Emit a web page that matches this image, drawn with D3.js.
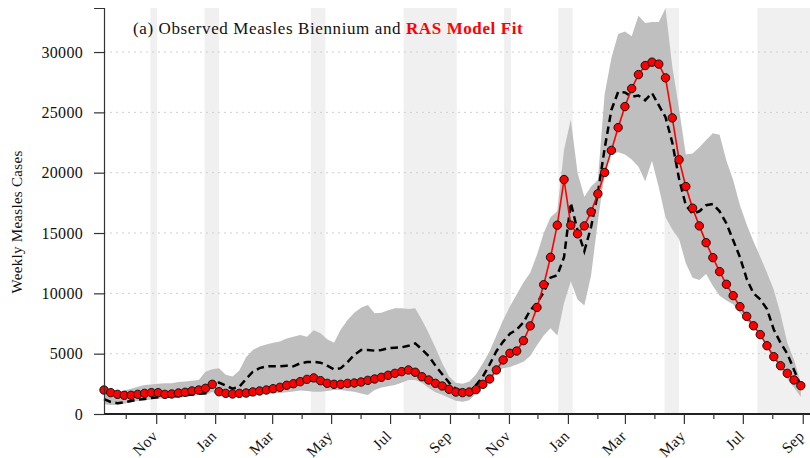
<!DOCTYPE html>
<html>
<head>
<meta charset="utf-8">
<style>
  html, body { margin: 0; padding: 0; background: #fff; }
  svg { display: block; }
</style>
<script src="https://cdn.jsdelivr.net/npm/d3@7"></script>
</head>
<body>
<main></main>
<script>
const WIDTH = 810;
const HEIGHT = 458;
const FONT = "'Liberation Serif', 'DejaVu Serif', serif";

// First week of the series, one value per week after that.
const START_DATE = "1961-09-08";

const observed = [
  1990, 1770, 1630, 1550, 1550, 1630, 1710, 1770, 1770, 1630,
  1660, 1740, 1800, 1910, 1990, 2130, 2460, 1850, 1710, 1660,
  1710, 1740, 1830, 1910, 1990, 2100, 2210, 2380, 2510, 2680,
  2870, 2990, 2760, 2540, 2460, 2460, 2540, 2570, 2650, 2790,
  2900, 3040, 3210, 3370, 3510, 3650, 3460, 3090, 2820, 2540,
  2320, 2050, 1820, 1770, 1820, 2020, 2460, 2900, 3650, 4480,
  5030, 5220, 6080, 7300, 8830, 10720, 12990, 15650, 19430, 15650,
  14930, 15590, 16750, 18250, 20010, 21850, 23740, 25480, 26970, 28130,
  28880, 29160, 29000, 27860, 24540, 21080, 18850, 17060, 15590, 14200,
  12960, 11800, 10750, 9810, 8900, 8090, 7310, 6580, 5660, 4750,
  4000, 3370, 2820, 2350
];

// RAS model: mean prediction and its interval
const modelMean = [
  1240, 1000, 900, 960, 1080, 1180, 1250, 1320, 1380, 1420,
  1450, 1500, 1560, 1620, 1680, 1720, 2500, 2600, 2350, 2100,
  2250, 2900, 3500, 3800, 3950, 3950, 3950, 4000, 3950, 4200,
  4300, 4330, 4250, 4000, 3700, 3800, 4300, 4900, 5300, 5300,
  5250, 5300, 5450, 5500, 5530, 5650, 5850, 5350, 4800, 4000,
  3300, 2600, 2100, 1900, 1950, 2400, 3100, 4100, 5200, 6000,
  6650, 7000, 7600, 8600, 9200, 10100, 11300, 11500, 13000, 17500,
  15200, 13500, 15500, 18300, 22000, 25200, 26700, 26650, 26300, 26400,
  26000, 26600, 25600, 24600, 22500, 19500, 17300, 16600, 16800, 17300,
  17400, 16800, 15800, 14400, 13000, 11200, 10000, 9500, 8700, 7000,
  5900, 5000, 3650, 2300
];

const modelLower = [
  800, 750, 760, 850, 1000, 1080, 1150, 1200, 1260, 1300,
  1320, 1350, 1400, 1500, 1580, 1580, 1850, 1580, 1520, 1490,
  1530, 1580, 1600, 1630, 1660, 1700, 1750, 1800, 1870, 1950,
  1900, 1850, 1850, 1900, 1990, 1990, 1900, 1850, 1700, 1580,
  1990, 2200, 2300, 2400, 2600, 2820, 2820, 2600, 2150, 1800,
  1600, 1350, 1100, 1020, 1150, 1700, 2300, 2700, 3500, 3800,
  3900, 4100, 4340, 4800, 5700, 6500, 7100, 6500, 9200, 11000,
  9500, 9000, 11500, 16000, 19900, 21600, 21700, 21500, 21100, 20500,
  19300, 21000, 18800, 16300, 15300, 14500, 12500, 11300, 11100, 11600,
  10600, 9800, 9400, 9100, 8400, 7700, 7200, 6500, 5600, 4750,
  3750, 2900, 2200, 1400
];

const modelUpper = [
  1600, 1700, 1800, 1950, 2100, 2250, 2400, 2450, 2500, 2540,
  2550, 2650, 2700, 2750, 2820, 3500, 3700, 3800, 3250, 3100,
  3600, 4700, 5300, 5600, 5750, 5900, 6000, 6250, 6400, 6550,
  6400, 6950, 6700, 6200, 5900, 7000, 7800, 8400, 8800, 9040,
  8350, 8400, 8600, 8760, 8760, 8700, 8760, 7800, 6700, 5500,
  4200, 3100, 2600, 2500, 2700, 3300, 4200, 5200, 6500, 7800,
  8900, 9900, 10900, 11700, 13200, 15000, 16300, 16800, 21900, 24400,
  20000, 18000, 18850, 19400, 26500, 29500, 31500, 31700, 31300, 33000,
  32400, 32500, 32500, 33600, 28800, 25300, 21500, 21600, 22100, 22700,
  23270, 23150, 21000, 19400, 17300, 15700, 14300, 13040, 11700, 10300,
  8300, 5900, 4480, 2600
];

// School holidays, drawn as light vertical bands
const holidays = [
  ["1961-10-26", "1961-11-02"],
  ["1961-12-21", "1962-01-05"],
  ["1962-04-10", "1962-04-25"],
  ["1962-07-15", "1962-09-08"],
  ["1962-10-27", "1962-11-03"],
  ["1962-12-22", "1963-01-06"],
  ["1963-04-11", "1963-04-26"],
  ["1963-07-16", "1963-09-30"]
];

const yTicks = [0, 5000, 10000, 15000, 20000, 25000, 30000];

const parse = d3.timeParse("%Y-%m-%d");
const start = parse(START_DATE);
const rows = observed.map((v, i) => ({
  date: d3.timeDay.offset(start, 7 * i),
  obs: v,
  mean: modelMean[i],
  lo: modelLower[i],
  hi: modelUpper[i]
}));

const margin = { top: 8, right: 0, bottom: 44, left: 104 };
const x = d3
  .scaleTime()
  .domain([start, new Date(start.getTime() + 730.5 * 864e5)])
  .range([margin.left, WIDTH - margin.right]);
const y = d3
  .scaleLinear()
  .domain([0, 33650])
  .range([HEIGHT - margin.bottom, margin.top]);

const svg = d3
  .create("svg")
  .attr("width", WIDTH)
  .attr("height", HEIGHT)
  .style("background", "#fff")
  .style("font-family", FONT);

svg
  .append("defs")
  .append("clipPath")
  .attr("id", "plot")
  .append("rect")
  .attr("x", margin.left)
  .attr("y", margin.top)
  .attr("width", WIDTH - margin.left - margin.right)
  .attr("height", HEIGHT - margin.top - margin.bottom);

// Holiday shading
svg
  .append("g")
  .attr("clip-path", "url(#plot)")
  .selectAll("rect")
  .data(holidays)
  .join("rect")
  .attr("x", (d) => x(parse(d[0])))
  .attr("width", (d) => x(parse(d[1])) - x(parse(d[0])))
  .attr("y", margin.top)
  .attr("height", y(0) - margin.top)
  .attr("fill", "#f0f0f0");

// Horizontal grid
svg
  .append("g")
  .selectAll("line")
  .data(yTicks.filter((t) => t > 0))
  .join("line")
  .attr("x1", margin.left)
  .attr("x2", WIDTH - margin.right)
  .attr("y1", (d) => y(d))
  .attr("y2", (d) => y(d))
  .attr("stroke", "#cfcfcf")
  .attr("stroke-width", 1)
  .attr("stroke-dasharray", "2,4");

// Model interval
svg
  .append("path")
  .datum(rows)
  .attr("fill", "#bfbfbf")
  .attr(
    "d",
    d3
      .area()
      .x((d) => x(d.date))
      .y0((d) => y(d.lo))
      .y1((d) => y(d.hi))
  );

// Model mean, dashed
svg
  .append("path")
  .datum(rows)
  .attr("fill", "none")
  .attr("stroke", "#000")
  .attr("stroke-width", 2.5)
  .attr("stroke-dasharray", "7.5,4.5")
  .attr(
    "d",
    d3
      .line()
      .x((d) => x(d.date))
      .y((d) => y(d.mean))
  );

// Observed cases
svg
  .append("path")
  .datum(rows)
  .attr("fill", "none")
  .attr("stroke", "#ff0000")
  .attr("stroke-width", 1.6)
  .attr(
    "d",
    d3
      .line()
      .x((d) => x(d.date))
      .y((d) => y(d.obs))
  );

svg
  .append("g")
  .selectAll("circle")
  .data(rows)
  .join("circle")
  .attr("cx", (d) => x(d.date))
  .attr("cy", (d) => y(d.obs))
  .attr("r", 4.2)
  .attr("fill", "#ff0000")
  .attr("stroke", "#111")
  .attr("stroke-width", 1);

// Y axis
const yAxis = svg
  .append("g")
  .attr("transform", `translate(${margin.left},0)`)
  .call(d3.axisLeft(y).tickValues(yTicks).tickSize(10).tickPadding(11).tickFormat(d3.format("d")));
yAxis.select(".domain").attr("stroke", "#333").attr("stroke-width", 1.2);
yAxis.selectAll(".tick line").attr("stroke", "#333").attr("stroke-width", 1.2);
yAxis
  .selectAll(".tick text")
  .attr("font-family", FONT)
  .attr("font-size", 16)
  .attr("letter-spacing", 0.3)
  .attr("fill", "#111");

// X axis: labelled ticks every other month, short ticks in between
const majors = x.ticks(d3.timeMonth.every(2));
const minors = x.ticks(d3.timeMonth.every(1)).filter((d) => d.getMonth() % 2 === 1);

const xAxis = svg
  .append("g")
  .attr("transform", `translate(0,${y(0)})`)
  .call(d3.axisBottom(x).tickValues(majors).tickSize(10).tickFormat(d3.timeFormat("%b")));
xAxis.select(".domain").attr("stroke", "#222").attr("stroke-width", 2).attr("d", `M${margin.left},0H${WIDTH}`);
xAxis.selectAll(".tick line").attr("stroke", "#333").attr("stroke-width", 1.2);
xAxis
  .selectAll(".tick text")
  .attr("font-family", FONT)
  .attr("font-size", 15.5)
  .attr("letter-spacing", 0.4)
  .attr("fill", "#111")
  .attr("x", 0)
  .attr("y", 0)
  .attr("dy", 0)
  .attr("text-anchor", "end")
  .attr("transform", "translate(2,23) rotate(-45)");

xAxis
  .append("g")
  .selectAll("line")
  .data(minors)
  .join("line")
  .attr("x1", (d) => x(d))
  .attr("x2", (d) => x(d))
  .attr("y1", 0)
  .attr("y2", 5)
  .attr("stroke", "#333")
  .attr("stroke-width", 1.2);

// Axis title
svg
  .append("text")
  .attr("transform", "translate(22,222) rotate(-90)")
  .attr("text-anchor", "middle")
  .attr("font-size", 15)
  .attr("letter-spacing", 0.3)
  .attr("fill", "#111")
  .text("Weekly Measles Cases");

// Panel title
const title = svg
  .append("text")
  .attr("x", 133)
  .attr("y", 34)
  .attr("font-size", 17)
  .attr("letter-spacing", 0.6)
  .attr("fill", "#111");
title.append("tspan").text("(a) Observed Measles Biennium and ");
title
  .append("tspan")
  .attr("fill", "#ff0000")
  .attr("font-weight", "bold")
  .text("RAS Model Fit");

document.querySelector("main").append(svg.node());
</script>
</body>
</html>
